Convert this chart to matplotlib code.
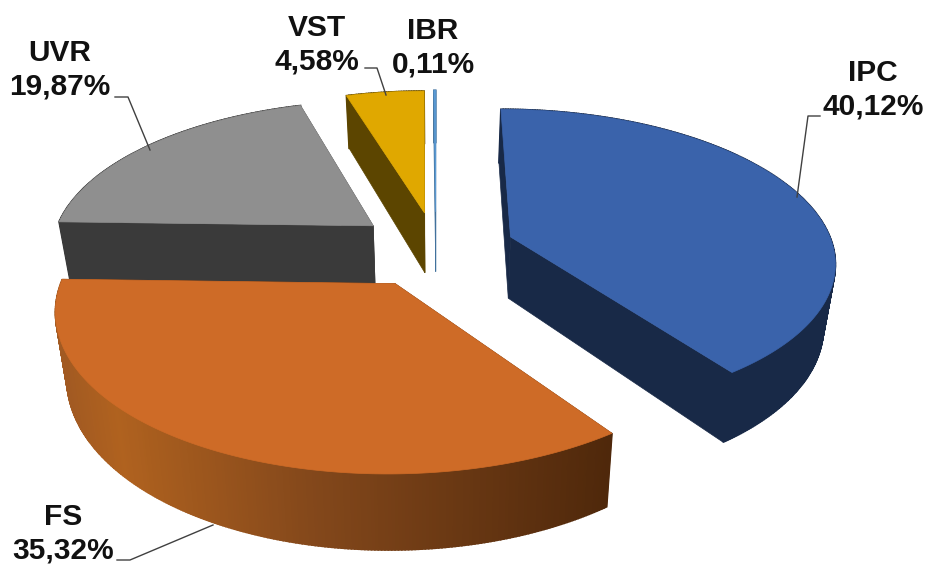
import numpy as np
import matplotlib
matplotlib.use("Agg")
import matplotlib.pyplot as plt
from matplotlib.colors import LinearSegmentedColormap
from matplotlib.patches import Polygon

names = ["IPC", "FS", "UVR", "VST", "IBR"]
shares = [40.12, 35.32, 19.87, 4.58, 0.11]

top_colors = ["#3A63AB", "#CE6B27", "#8F8F8F", "#E0A800", "#5B9BD5"]
side_colors = ["#182947", "#5A2D0D", "#3A3A3A", "#5C4500", "#41719C"]
explode = [0.245, 0.26, 0.25, 0.245, 0.25]
draw_order = [2, 3, 4, 0, 1]

label_pos = [(873, 90), (63, 534), (60, 70), (317, 45), (433, 48)]
leaders = [
    [(820, 116), (808, 116), (797, 197)],
    [(117, 560), (130, 560), (213, 525)],
    [(115, 97), (128, 97), (150, 150)],
    [(365, 68), (377, 68), (386, 95)],
]

# fake 3d view, everything in screen pixels
cx, cy = 436, 248
R = 323
tilt = 0.464
persp = 0.15
drop = 0.03
height = 62

fs_cmap = LinearSegmentedColormap.from_list(
    "fs", [(0, "#A25A22"), (0.1, "#B0621F"), (0.45, "#84481B"), (1, "#4F280B")])


def project(x, y, z=0.0):
    s = 1 / (1 + persp * y)
    return cx + R * x * s * (1 - drop * z), cy - R * tilt * y * s + height * z * s


def wedge_xy(a0, a1, off):
    t = np.radians(np.linspace(a0, a1, max(int(a1 - a0) * 2, 2)))
    mid = np.radians((a0 + a1) / 2)
    ox, oy = off * np.sin(mid), off * np.cos(mid)
    return ox, oy, ox + np.sin(t), oy + np.cos(t)


fig = plt.figure(figsize=(9.25, 5.66), dpi=100)
ax = fig.add_axes([0, 0, 1, 1])
ax.set_xlim(0, 925)
ax.set_ylim(566, 0)
ax.axis("off")

edges = np.concatenate([[0], np.cumsum(shares)]) * 3.6

for i in draw_order:
    ox, oy, xs, ys = wedge_xy(edges[i], edges[i + 1], explode[i])
    side = side_colors[i]
    base = draw_order.index(i) * 3

    # the two cut faces
    for x, y in [(xs[0], ys[0]), (xs[-1], ys[-1])]:
        pts = [project(ox, oy), project(x, y), project(x, y, 1), project(ox, oy, 1)]
        ax.add_patch(Polygon(pts, fc=side, ec=side, lw=0.5, zorder=base))

    # outer rim in strips, one polygon folds over itself at the silhouette
    for j in range(len(xs) - 1):
        pts = [project(xs[j], ys[j]), project(xs[j + 1], ys[j + 1]),
               project(xs[j + 1], ys[j + 1], 1), project(xs[j], ys[j], 1)]
        col = side
        if names[i] == "FS":
            col = fs_cmap(np.clip((pts[0][0] - 60) / 552, 0, 1))
        ax.add_patch(Polygon(pts, fc=col, ec=col, lw=1.2, zorder=base + 1))

    px, py = project(np.r_[ox, xs], np.r_[oy, ys])
    ax.add_patch(Polygon(np.c_[px, py], fc=top_colors[i], ec=top_colors[i], lw=0.5,
                         zorder=base + 2))

for line in leaders:
    lx, ly = zip(*line)
    ax.plot(lx, ly, color="#404040", lw=1.0, zorder=30)

for name, share, (x, y) in zip(names, shares, label_pos):
    label = f"{name}\n{share:.2f}%".replace(".", ",")
    ax.text(x, y, label, ha="center", va="center", family="Liberation Sans",
            weight="bold", fontsize=21.5, linespacing=1.25, color="#111111", zorder=31)

fig.savefig("out.png", dpi=100, facecolor="white")
